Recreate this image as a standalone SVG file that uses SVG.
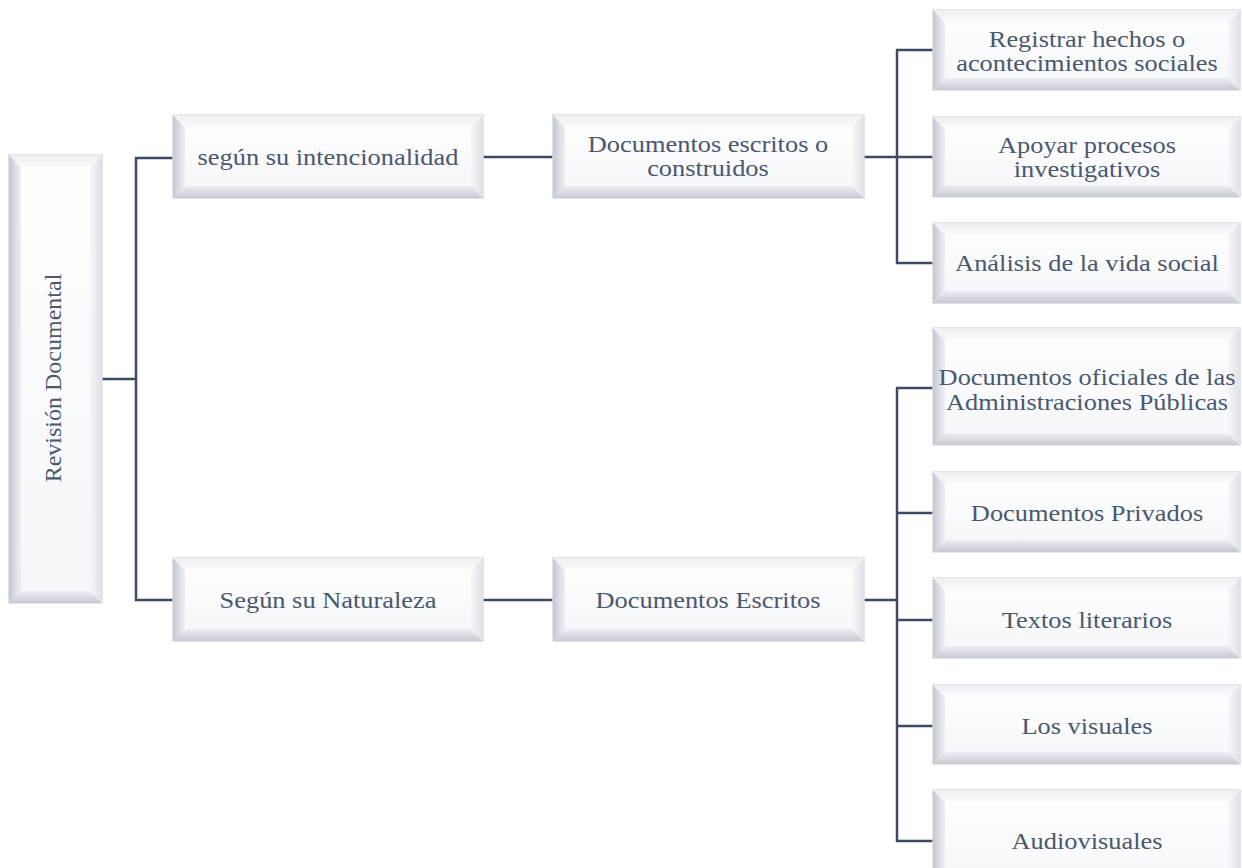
<svg xmlns="http://www.w3.org/2000/svg" width="1242" height="868" viewBox="0 0 1242 868">
<defs>
<linearGradient id="gL" x1="0" y1="0" x2="1" y2="0"><stop offset="0" stop-color="#c5c8d2"/><stop offset="1" stop-color="#eff0f4"/></linearGradient>
<linearGradient id="gB" x1="0" y1="0" x2="0" y2="1"><stop offset="0" stop-color="#eceef2"/><stop offset="1" stop-color="#c7cad2"/></linearGradient>
<linearGradient id="gR" x1="0" y1="0" x2="1" y2="0"><stop offset="0" stop-color="#f6f6f9"/><stop offset="1" stop-color="#dfe1e6"/></linearGradient>
<linearGradient id="gT" x1="0" y1="0" x2="0" y2="1"><stop offset="0" stop-color="#eceef1"/><stop offset="1" stop-color="#fbfbfd"/></linearGradient>
<linearGradient id="gF" x1="0" y1="0" x2="0" y2="1"><stop offset="0" stop-color="#ffffff"/><stop offset="1" stop-color="#f5f6f9"/></linearGradient>
</defs>
<style>
.face{fill:url(#gF);stroke:#d9dce2;stroke-width:1.5}
.bl{fill:url(#gL)}
.bb{fill:url(#gB)}
.br{fill:url(#gR)}
.bt{fill:url(#gT)}
text{font-family:"Liberation Serif","Times New Roman",serif;font-size:24px;fill:#4a586e;text-anchor:middle}
.conn line{stroke:#3c4a62;stroke-width:2.5;fill:none}
</style>

<g class="conn" id="connectors">
<line x1="102" y1="379" x2="137" y2="379"/>
<line x1="136" y1="157" x2="136" y2="601"/>
<line x1="135" y1="158" x2="173" y2="158"/>
<line x1="135" y1="600" x2="173" y2="600"/>
<line x1="483" y1="157" x2="553" y2="157"/>
<line x1="483" y1="600" x2="553" y2="600"/>
<line x1="864" y1="157" x2="897" y2="157"/>
<line x1="897" y1="50" x2="897" y2="264"/>
<line x1="896" y1="50" x2="933" y2="50"/>
<line x1="896" y1="157" x2="933" y2="157"/>
<line x1="896" y1="263" x2="933" y2="263"/>
<line x1="864" y1="600" x2="897" y2="600"/>
<line x1="897" y1="388" x2="897" y2="842"/>
<line x1="896" y1="388" x2="933" y2="388"/>
<line x1="896" y1="513" x2="933" y2="513"/>
<line x1="896" y1="620" x2="933" y2="620"/>
<line x1="896" y1="726" x2="933" y2="726"/>
<line x1="896" y1="841" x2="933" y2="841"/>
</g>

<g id="root">
<rect class="face" x="9" y="155" width="93" height="448"/>
<polygon class="bl" points="9,155 21,167 21,591 9,603"/>
<polygon class="bb" points="9,603 21,591 90,591 102,603"/>
<polygon class="br" points="102,155 90,167 90,591 102,603"/>
<polygon class="bt" points="9,155 102,155 90,167 21,167"/>
<text transform="translate(61,378) rotate(-90)">Revisión Documental</text>
</g>

<g id="intencionalidad">
<rect class="face" x="173" y="115" width="310" height="83"/>
<polygon class="bl" points="173,115 185,127 185,186 173,198"/>
<polygon class="bb" points="173,198 185,186 471,186 483,198"/>
<polygon class="br" points="483,115 471,127 471,186 483,198"/>
<polygon class="bt" points="173,115 483,115 471,127 185,127"/>
<text transform="translate(328,165) scale(1.1,1)">según su intencionalidad</text>
</g>

<g id="escritos-construidos">
<rect class="face" x="553" y="115" width="311" height="83"/>
<polygon class="bl" points="553,115 565,127 565,186 553,198"/>
<polygon class="bb" points="553,198 565,186 852,186 864,198"/>
<polygon class="br" points="864,115 852,127 852,186 864,198"/>
<polygon class="bt" points="553,115 864,115 852,127 565,127"/>
<text transform="translate(708,152) scale(1.1,1)">Documentos escritos o</text>
<text transform="translate(708,176) scale(1.1,1)">construidos</text>
</g>

<g id="naturaleza">
<rect class="face" x="173" y="558" width="310" height="83"/>
<polygon class="bl" points="173,558 185,570 185,629 173,641"/>
<polygon class="bb" points="173,641 185,629 471,629 483,641"/>
<polygon class="br" points="483,558 471,570 471,629 483,641"/>
<polygon class="bt" points="173,558 483,558 471,570 185,570"/>
<text transform="translate(328,608) scale(1.1,1)">Según su Naturaleza</text>
</g>

<g id="documentos-escritos">
<rect class="face" x="553" y="558" width="311" height="83"/>
<polygon class="bl" points="553,558 565,570 565,629 553,641"/>
<polygon class="bb" points="553,641 565,629 852,629 864,641"/>
<polygon class="br" points="864,558 852,570 852,629 864,641"/>
<polygon class="bt" points="553,558 864,558 852,570 565,570"/>
<text transform="translate(708,608) scale(1.1,1)">Documentos Escritos</text>
</g>

<g id="registrar">
<rect class="face" x="933" y="10" width="307" height="80"/>
<polygon class="bl" points="933,10 945,22 945,78 933,90"/>
<polygon class="bb" points="933,90 945,78 1228,78 1240,90"/>
<polygon class="br" points="1240,10 1228,22 1228,78 1240,90"/>
<polygon class="bt" points="933,10 1240,10 1228,22 945,22"/>
<text transform="translate(1087,47) scale(1.1,1)">Registrar hechos o</text>
<text transform="translate(1087,71) scale(1.1,1)">acontecimientos sociales</text>
</g>

<g id="apoyar">
<rect class="face" x="933" y="117" width="307" height="80"/>
<polygon class="bl" points="933,117 945,129 945,185 933,197"/>
<polygon class="bb" points="933,197 945,185 1228,185 1240,197"/>
<polygon class="br" points="1240,117 1228,129 1228,185 1240,197"/>
<polygon class="bt" points="933,117 1240,117 1228,129 945,129"/>
<text transform="translate(1087,153) scale(1.1,1)">Apoyar procesos</text>
<text transform="translate(1087,177) scale(1.1,1)">investigativos</text>
</g>

<g id="analisis">
<rect class="face" x="933" y="223" width="307" height="80"/>
<polygon class="bl" points="933,223 945,235 945,291 933,303"/>
<polygon class="bb" points="933,303 945,291 1228,291 1240,303"/>
<polygon class="br" points="1240,223 1228,235 1228,291 1240,303"/>
<polygon class="bt" points="933,223 1240,223 1228,235 945,235"/>
<text transform="translate(1087,271) scale(1.1,1)">Análisis de la vida social</text>
</g>

<g id="oficiales">
<rect class="face" x="933" y="328" width="307" height="117"/>
<polygon class="bl" points="933,328 945,340 945,433 933,445"/>
<polygon class="bb" points="933,445 945,433 1228,433 1240,445"/>
<polygon class="br" points="1240,328 1228,340 1228,433 1240,445"/>
<polygon class="bt" points="933,328 1240,328 1228,340 945,340"/>
<text transform="translate(1087,385) scale(1.1,1)">Documentos oficiales de las</text>
<text transform="translate(1087,410) scale(1.1,1)">Administraciones Públicas</text>
</g>

<g id="privados">
<rect class="face" x="933" y="472" width="307" height="80"/>
<polygon class="bl" points="933,472 945,484 945,540 933,552"/>
<polygon class="bb" points="933,552 945,540 1228,540 1240,552"/>
<polygon class="br" points="1240,472 1228,484 1228,540 1240,552"/>
<polygon class="bt" points="933,472 1240,472 1228,484 945,484"/>
<text transform="translate(1087,521) scale(1.1,1)">Documentos Privados</text>
</g>

<g id="literarios">
<rect class="face" x="933" y="578" width="307" height="80"/>
<polygon class="bl" points="933,578 945,590 945,646 933,658"/>
<polygon class="bb" points="933,658 945,646 1228,646 1240,658"/>
<polygon class="br" points="1240,578 1228,590 1228,646 1240,658"/>
<polygon class="bt" points="933,578 1240,578 1228,590 945,590"/>
<text transform="translate(1087,628) scale(1.1,1)">Textos literarios</text>
</g>

<g id="visuales">
<rect class="face" x="933" y="685" width="307" height="79"/>
<polygon class="bl" points="933,685 945,697 945,752 933,764"/>
<polygon class="bb" points="933,764 945,752 1228,752 1240,764"/>
<polygon class="br" points="1240,685 1228,697 1228,752 1240,764"/>
<polygon class="bt" points="933,685 1240,685 1228,697 945,697"/>
<text transform="translate(1087,734) scale(1.1,1)">Los visuales</text>
</g>

<g id="audiovisuales">
<rect class="face" x="933" y="790" width="307" height="100"/>
<polygon class="bl" points="933,790 945,802 945,878 933,890"/>
<polygon class="bb" points="933,890 945,878 1228,878 1240,890"/>
<polygon class="br" points="1240,790 1228,802 1228,878 1240,890"/>
<polygon class="bt" points="933,790 1240,790 1228,802 945,802"/>
<text transform="translate(1087,849) scale(1.1,1)">Audiovisuales</text>
</g>
</svg>
